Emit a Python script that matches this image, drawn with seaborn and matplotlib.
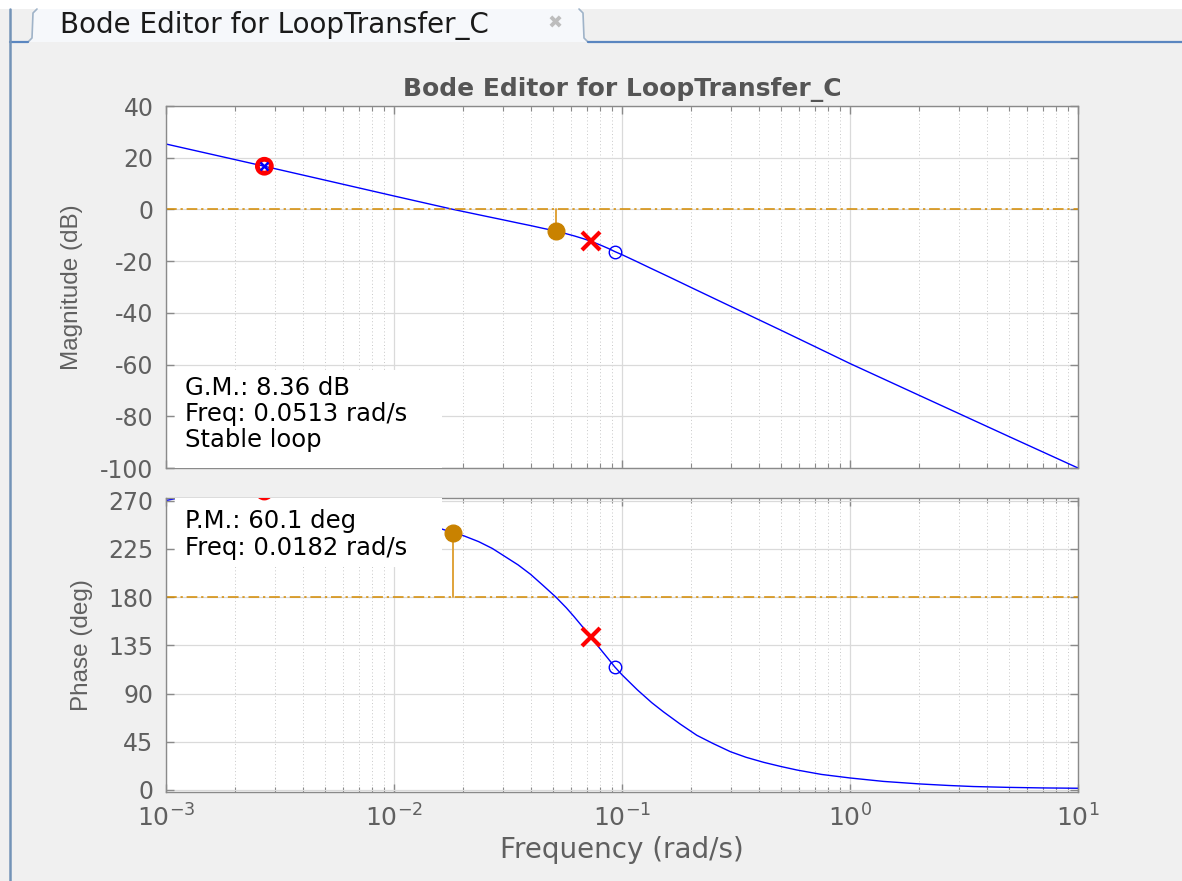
import matplotlib
matplotlib.use("Agg")
import matplotlib.pyplot as plt
import matplotlib.transforms as mtransforms
from matplotlib.patches import Rectangle, Polygon
from matplotlib.lines import Line2D
from matplotlib.ticker import LogLocator, NullFormatter
import numpy as np
import pandas as pd
import seaborn as sns

W, H = 1182, 881

# Open-loop magnitude response (rad/s, dB)
mag_freq = [0.001, 0.0027, 0.005, 0.01, 0.0182, 0.025, 0.03, 0.035, 0.04, 0.045,
            0.0513, 0.057, 0.062, 0.068, 0.073, 0.08, 0.087, 0.093, 0.1, 0.115,
            0.134, 0.16, 0.2, 0.3, 0.5, 0.7, 1.0, 2.0, 5.0, 10.0]
mag_db = [25.3, 16.7, 11.3, 5.2, 0.0, -2.55, -4.0, -5.25, -6.3, -7.3,
          -8.36, -9.41, -10.29, -11.37, -12.3, -13.69, -15.07, -16.3, -17.5, -20.0,
          -22.8, -26.0, -30.1, -37.5, -46.8, -53.0, -59.6, -71.8, -87.9, -100.0]

# Open-loop phase response (rad/s, deg)
phase_freq = [0.001, 0.0012, 0.002, 0.0027, 0.004, 0.006, 0.009, 0.0125, 0.0164,
              0.0182, 0.0203, 0.0235, 0.027, 0.0303, 0.035, 0.0397, 0.045, 0.0513,
              0.057, 0.0615, 0.067, 0.073, 0.08, 0.087, 0.093, 0.1, 0.1167, 0.135,
              0.152, 0.18, 0.213, 0.25, 0.299, 0.35, 0.418, 0.5, 0.586, 0.75, 1.0,
              1.4, 2.03, 2.7, 3.48, 5.0, 7.0, 10.0]
phase_deg = [270.2, 273.5, 278.5, 279.0, 277.0, 270.0, 260.0, 251.0, 243.2,
             240.1, 237.1, 231.8, 225.4, 218.6, 210.1, 201.3, 191.0, 180.0,
             170.0, 162.0, 152.5, 142.7, 132.0, 122.5, 114.8, 107.5, 93.5, 81.5,
             72.9, 61.5, 51.0, 43.5, 35.7, 30.5, 25.8, 21.8, 18.6, 14.5, 11.2,
             8.0, 5.6, 4.2, 3.2, 2.4, 1.9, 1.6]

# Pole/zero markers: compensator zero+pole pair, compensator pole, plant zero
marker_freq = [0.0027, 0.073, 0.093]
marker_mag = [16.7, -12.3, -16.3]
marker_phase = [279.0, 142.7, 114.8]

# Stability margins
gm_db = 8.36
gm_freq = 0.0513
pm_deg = 60.1
pm_freq = 0.0182

mag_ticks = [-100, -80, -60, -40, -20, 0, 20, 40]
phase_ticks = [0, 45, 90, 135, 180, 225, 270]

sns.set_style("white")
plt.rcParams["font.family"] = ["DejaVu Sans"]
plt.rcParams["axes.unicode_minus"] = False

BG = "#f0f0f0"
ORANGE = "#d48a00"
LABEL_GREY = "#606060"
SPINE_GREY = "#8a8a8a"
NARROW = ["Liberation Sans Narrow", "Liberation Sans", "DejaVu Sans"]

fig = plt.figure(figsize=(W / 100, H / 100), dpi=100, facecolor=BG)
px = mtransforms.Affine2D().scale(1 / W, -1 / H).translate(0, 1) + fig.transFigure


def rect(left, top, right, bottom):
    return [left / W, 1 - bottom / H, (right - left) / W, (bottom - top) / H]


# ---- window chrome: tab strip ----
fig.patches.append(Rectangle((0, 0), W, 9, transform=px, facecolor="white",
                             edgecolor="none", zorder=0))
tab_x = [28, 32, 33, 37, 579, 583, 584, 588]
tab_y = [42, 38, 13, 9, 9, 13, 38, 42]
fig.patches.append(Polygon(list(zip(tab_x, tab_y)), closed=True, transform=px,
                           facecolor="#f6f8fb", edgecolor="none", zorder=1))
fig.lines.append(Line2D(tab_x[:4], tab_y[:4], transform=px, color="#9fb3c8", lw=1.2, zorder=2))
fig.lines.append(Line2D(tab_x[4:], tab_y[4:], transform=px, color="#9fb3c8", lw=1.2, zorder=2))
fig.lines.append(Line2D([588, W], [42, 42], transform=px, color="#5a86c0", lw=1.6, zorder=2))
fig.lines.append(Line2D([10, 28], [42, 42], transform=px, color="#5a86c0", lw=1.6, zorder=2))
fig.lines.append(Line2D([10, 10], [9, H], transform=px, color="#7393b7", lw=1.8, zorder=2))
fig.text(60 / W, 1 - 25 / H, "Bode Editor for LoopTransfer_C", fontsize=20,
         color="#1a1a1a", ha="left", va="center")
fig.text(555 / W, 1 - 24 / H, "\u2716", fontsize=13, color="#bdbdbd",
         ha="center", va="center")

# ---- axes ----
ax_mag = fig.add_axes(rect(166, 106, 1078, 468))
ax_ph = fig.add_axes(rect(166, 498, 1078, 792))


def style_axes(ax, ylim, yticks, show_xlabels):
    ax.set_xscale("log")
    ax.set_xlim(1e-3, 10)
    ax.set_ylim(*ylim)
    ax.set_yticks(yticks)
    ax.xaxis.set_major_locator(LogLocator(base=10, numticks=10))
    ax.xaxis.set_minor_locator(LogLocator(base=10, subs=np.arange(2, 10), numticks=10))
    ax.xaxis.set_minor_formatter(NullFormatter())
    ax.set_facecolor("white")
    for s in ax.spines.values():
        s.set_visible(True)
        s.set_color(SPINE_GREY)
        s.set_linewidth(1.0)
    ax.tick_params(which="both", direction="in", top=True, right=True,
                   bottom=True, left=True, colors=SPINE_GREY, labelcolor=LABEL_GREY)
    ax.tick_params(which="major", length=6, width=1)
    ax.tick_params(which="minor", length=3.5, width=0.8)
    ax.tick_params(axis="y", labelsize=17, pad=9)
    ax.tick_params(axis="x", labelsize=18, pad=9)
    if not show_xlabels:
        ax.tick_params(axis="x", which="both", labelbottom=False)
    ax.grid(True, which="major", color="#dadada", lw=0.9, ls="-")
    ax.grid(True, which="minor", axis="x", color="#c8c8c8", lw=0.7, ls=(0, (1, 2.5)))
    ax.set_axisbelow(True)


style_axes(ax_mag, (-100, 40), mag_ticks, False)
style_axes(ax_ph, (-1.9, 272.5), phase_ticks, True)

# ---- magnitude ----
mag_df = pd.DataFrame({"freq": mag_freq, "mag": mag_db})
sns.lineplot(data=mag_df, x="freq", y="mag", ax=ax_mag, color="#0000ff", lw=1.0,
             estimator=None, sort=False, zorder=2)
ax_mag.axhline(0, color=ORANGE, lw=1.1, ls="-.", dashes=(7, 2.5, 1.5, 2.5), zorder=2)
ax_mag.plot([gm_freq, gm_freq], [0, -gm_db], color="#e0a33a", lw=1.4, zorder=4)
ax_mag.plot(gm_freq, -gm_db, "o", color="#c98200", ms=12, zorder=5)

ax_mag.scatter([marker_freq[0]], [marker_mag[0]], s=100, facecolors="none",
               edgecolors="red", linewidths=3.5, zorder=6)
ax_mag.plot(marker_freq[0], marker_mag[0], "x", color="blue", mew=1.8, ms=6, zorder=7)
ax_mag.plot(marker_freq[1], marker_mag[1], "x", color="red", mew=3, ms=13, zorder=6)
ax_mag.plot(marker_freq[2], marker_mag[2], "o", mfc="none", mec="blue", mew=1, ms=9, zorder=6)

ax_mag.add_patch(Rectangle((0.01, 0), 0.2926, 0.27, transform=ax_mag.transAxes,
                           facecolor="white", edgecolor="none", zorder=3))
for yy, txt in zip([0.221, 0.148, 0.077],
                   [f"G.M.: {gm_db} dB", f"Freq: {gm_freq} rad/s", "Stable loop"]):
    ax_mag.text(0.0208, yy, txt, transform=ax_mag.transAxes, fontsize=17.5,
                color="black", ha="left", va="center", zorder=8)

ax_mag.set_xlabel("")
ax_mag.set_ylabel("Magnitude (dB)", family=NARROW, fontsize=17.5, color=LABEL_GREY)
ax_mag.yaxis.set_label_coords(-0.091, 0.5)
ax_mag.set_title("Bode Editor for LoopTransfer_C", fontweight="bold", fontsize=18,
                 color="#555555", pad=7)

# ---- phase ----
ph_df = pd.DataFrame({"freq": phase_freq, "phase": phase_deg})
sns.lineplot(data=ph_df, x="freq", y="phase", ax=ax_ph, color="#0000ff", lw=1.0,
             estimator=None, sort=False, zorder=2)
ax_ph.axhline(180, color=ORANGE, lw=1.1, ls="-.", dashes=(7, 2.5, 1.5, 2.5), zorder=2)
ax_ph.plot([pm_freq, pm_freq], [180, 180 + pm_deg], color="#e0a33a", lw=1.4, zorder=4)
ax_ph.plot(pm_freq, 180 + pm_deg, "o", color="#c98200", ms=12, zorder=5)

# the compensator marker sits just above the phase range; only its rim shows
zero_mark = ax_ph.scatter([marker_freq[0]], [marker_phase[0]], s=100, facecolors="none",
                          edgecolors="red", linewidths=3.5, zorder=6)
zero_mark.set_clip_path(Rectangle((0, 0), 1, 1, transform=ax_ph.transAxes))
ax_ph.plot(marker_freq[1], marker_phase[1], "x", color="red", mew=3, ms=13, zorder=6)
ax_ph.plot(marker_freq[2], marker_phase[2], "o", mfc="none", mec="blue", mew=1, ms=9, zorder=6)

ax_ph.add_patch(Rectangle((0.01, 0.765), 0.2926, 0.235, transform=ax_ph.transAxes,
                          facecolor="white", edgecolor="none", zorder=3))
for yy, txt in zip([0.922, 0.830],
                   [f"P.M.: {pm_deg} deg", f"Freq: {pm_freq} rad/s"]):
    ax_ph.text(0.0208, yy, txt, transform=ax_ph.transAxes, fontsize=17.5,
               color="black", ha="left", va="center", zorder=8)

ax_ph.set_ylabel("Phase (deg)", family=NARROW, fontsize=17.5, color=LABEL_GREY)
ax_ph.yaxis.set_label_coords(-0.080, 0.5)
ax_ph.set_xlabel("Frequency (rad/s)", fontsize=20, color=LABEL_GREY)
ax_ph.xaxis.set_label_coords(0.5, -0.15)

fig.savefig("out.png", dpi=100, facecolor=BG)
